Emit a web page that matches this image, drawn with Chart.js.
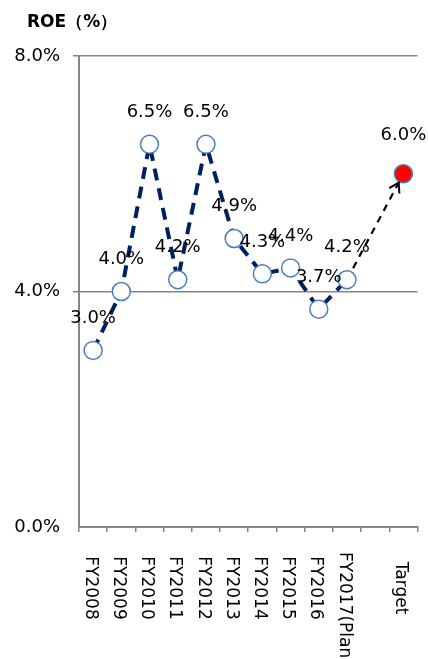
<!doctype html>
<html lang="en">
<head>
    <meta charset="utf-8">
    <title>ROE</title>
    <script src="https://cdn.jsdelivr.net/npm/chart.js@4.4.1/dist/chart.umd.min.js"></script>
    <style>
        html, body { margin: 0; padding: 0; background: #fff; }
        #wrap { width: 428px; height: 659px; position: relative; }
    </style>
</head>
<body>
    <div id="wrap"><canvas id="roeChart"></canvas></div>
    <script>
        // fiscal years, then an empty slot before the target
        var categories = ['FY2008', 'FY2009', 'FY2010', 'FY2011', 'FY2012', 'FY2013', 'FY2014',
            'FY2015', 'FY2016', 'FY2017(Plan)', '', 'Target'];
        var roe = [3.0, 4.0, 6.5, 4.2, 6.5, 4.9, 4.3, 4.4, 3.7, 4.2, null, 6.0];
        var yTicks = [0, 4, 8];

        var TARGET = categories.length - 1;
        var FONT = 'DejaVu Sans, Verdana, sans-serif';

        // value labels, arrow head, title and rotated category labels
        var extras = {
            id: 'extras',
            afterDatasetsDraw: function (chart) {
                var ctx = chart.ctx;
                var pts = chart.getDatasetMeta(0).data;

                // arrow head on the target segment
                var a = pts[9], b = pts[TARGET];
                var ang = Math.atan2(b.y - a.y, b.x - a.x);
                var tipX = b.x - Math.cos(ang) * 10, tipY = b.y - Math.sin(ang) * 10;
                ctx.save();
                ctx.strokeStyle = '#000';
                ctx.lineWidth = 2;
                ctx.beginPath();
                ctx.moveTo(tipX - Math.cos(ang - 0.55) * 11, tipY - Math.sin(ang - 0.55) * 11);
                ctx.lineTo(tipX, tipY);
                ctx.lineTo(tipX - Math.cos(ang + 0.55) * 11, tipY - Math.sin(ang + 0.55) * 11);
                ctx.stroke();
                ctx.restore();

                ctx.save();
                ctx.fillStyle = '#000';
                ctx.font = '18px ' + FONT;
                ctx.textAlign = 'center';
                ctx.textBaseline = 'middle';
                roe.forEach(function (v, i) {
                    if (v === null) return;
                    var off = i === TARGET ? 38 : 32;
                    ctx.fillText(v.toFixed(1) + '%', pts[i].x, pts[i].y - off);
                });
                ctx.restore();
            },
            afterDraw: function (chart) {
                var ctx = chart.ctx;
                var xs = chart.scales.x;
                ctx.save();
                ctx.fillStyle = '#000';
                ctx.font = 'bold 17px ' + FONT;
                ctx.textAlign = 'left';
                ctx.textBaseline = 'middle';
                ctx.fillText('ROE（%）', 27, 23);

                ctx.font = '17px ' + FONT;
                ctx.textBaseline = 'middle';
                categories.forEach(function (lab, i) {
                    if (!lab) return;
                    var w = ctx.measureText(lab).width;
                    var top = Math.max(552, 588 - w / 2);
                    ctx.save();
                    ctx.translate(xs.getPixelForValue(i) - 3, top);
                    ctx.rotate(Math.PI / 2);
                    ctx.fillText(lab, 0, 0);
                    ctx.restore();
                });
                ctx.restore();
            }
        };

        var el = document.getElementById('roeChart').getContext('2d');
        var roeChart = new Chart(el, {
            type: 'line',
            data: {
                labels: categories,
                datasets: [{
                    data: roe,
                    spanGaps: true,
                    borderColor: '#002060',
                    borderWidth: 4,
                    borderDash: [12, 8],
                    fill: false,
                    tension: 0,
                    pointRadius: 9,
                    pointBorderWidth: 1.5,
                    pointBorderColor: '#4a7ebb',
                    pointBackgroundColor: roe.map(function (v, i) { return i === TARGET ? '#ff0000' : '#ffffff'; }),
                    segment: {
                        borderColor: function (c) { return c.p1DataIndex === TARGET ? '#000000' : '#002060'; },
                        borderWidth: function (c) { return c.p1DataIndex === TARGET ? 2.2 : 4; },
                        borderDash: function (c) { return c.p1DataIndex === TARGET ? [7, 6] : [12, 8]; }
                    }
                }]
            },
            options: {
                responsive: true,
                maintainAspectRatio: false,
                animation: false,
                layout: { padding: { left: 0, right: 10, top: 56, bottom: 0 } },
                plugins: {
                    legend: { display: false },
                    tooltip: { enabled: false }
                },
                scales: {
                    x: {
                        offset: true,
                        grid: {
                            offset: true,
                            drawOnChartArea: false,
                            tickLength: 5,
                            color: '#868686',
                            lineWidth: 1.5
                        },
                        border: { color: '#868686', width: 2 },
                        ticks: { display: false },
                        afterFit: function (s) { s.height = 132; }
                    },
                    y: {
                        min: 0,
                        max: 8,
                        afterBuildTicks: function (s) {
                            s.ticks = yTicks.map(function (v) { return { value: v }; });
                        },
                        grid: {
                            color: function (c) { return c.tick.value === 0 ? 'rgba(0,0,0,0)' : '#868686'; },
                            lineWidth: 1.5,
                            tickLength: 6
                        },
                        border: { color: '#868686', width: 2 },
                        ticks: {
                            color: '#000',
                            padding: 13,
                            font: { family: FONT, size: 18 },
                            callback: function (v) { return v.toFixed(1) + '%'; }
                        },
                        afterFit: function (s) { s.width = 79; }
                    }
                }
            },
            plugins: [extras]
        });
    </script>
</body>
</html>
